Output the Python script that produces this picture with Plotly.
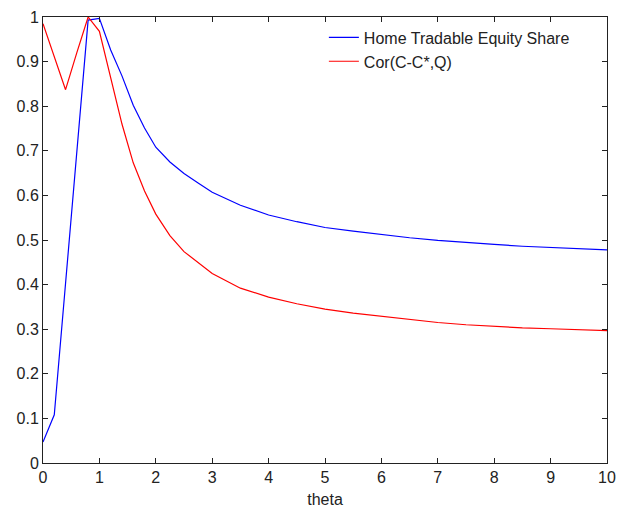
import plotly.graph_objects as go

theta = [0, 0.2, 0.4, 0.6, 0.8, 1.0, 1.2, 1.4, 1.6, 1.8, 2.0, 2.25, 2.5, 2.75, 3.0,
         3.5, 4.0, 4.5, 5.0, 5.5, 6.0, 6.5, 7.0, 7.5, 8.0, 8.5, 9.0, 9.5, 10.0]

home_share = [0.047, 0.108, 0.403, 0.698, 0.993, 0.997, 0.926, 0.868, 0.802, 0.751,
              0.708, 0.675, 0.649, 0.628, 0.607, 0.578, 0.556, 0.541, 0.528, 0.520,
              0.512, 0.505, 0.499, 0.494, 0.490, 0.486, 0.483, 0.480, 0.478]

cor_cq = [0.985, 0.911, 0.837, 0.920, 1.0, 0.968, 0.866, 0.760, 0.673, 0.610,
          0.558, 0.510, 0.474, 0.449, 0.425, 0.392, 0.372, 0.357, 0.345, 0.336,
          0.329, 0.321, 0.315, 0.310, 0.306, 0.303, 0.301, 0.299, 0.297]

xticks = list(range(0, 11))
yticks = [i / 10 for i in range(0, 11)]
yticklabels = ["0", "0.1", "0.2", "0.3", "0.4", "0.5", "0.6", "0.7", "0.8", "0.9", "1"]

fig = go.Figure()
fig.add_trace(go.Scatter(x=theta, y=home_share, mode="lines",
                         name="Home Tradable Equity Share",
                         line=dict(color="#0000ff", width=1.2)))
fig.add_trace(go.Scatter(x=theta, y=cor_cq, mode="lines",
                         name="Cor(C-C*,Q)",
                         line=dict(color="#ff0000", width=1.2)))

axis_common = dict(showline=True, linecolor="#222222", linewidth=1, mirror="ticks",
                   ticks="inside", ticklen=5, tickcolor="#222222", tickwidth=1,
                   showgrid=False, zeroline=False, automargin=False,
                   tickfont=dict(family="Liberation Sans, Arial", size=16, color="#222222"))

fig.update_layout(
    width=619, height=512,
    margin=dict(l=43, r=12, t=17, b=49, autoexpand=False),
    paper_bgcolor="white", plot_bgcolor="white",
    font=dict(family="Liberation Sans, Arial", size=16, color="#222222"),
    xaxis=dict(range=[0, 10], tickvals=xticks, ticktext=[str(t) for t in xticks],
               title=dict(text="theta", standoff=8,
                          font=dict(family="Liberation Sans, Arial", size=16)),
               **axis_common),
    yaxis=dict(range=[0, 1], tickvals=yticks, ticktext=yticklabels, **axis_common),
    legend=dict(x=0.498, y=0.992, xanchor="left", yanchor="top",
                bgcolor="rgba(0,0,0,0)", borderwidth=0,
                font=dict(family="Liberation Sans, Arial", size=16, color="#222222"),
                tracegroupgap=0, itemwidth=30),
    showlegend=True,
)

# remove the default page margin so the figure fills the window exactly
fig.write_html(
    "out.html",
    config={"displayModeBar": False},
    post_script="document.body.style.margin='0';document.body.style.overflow='hidden';",
)
